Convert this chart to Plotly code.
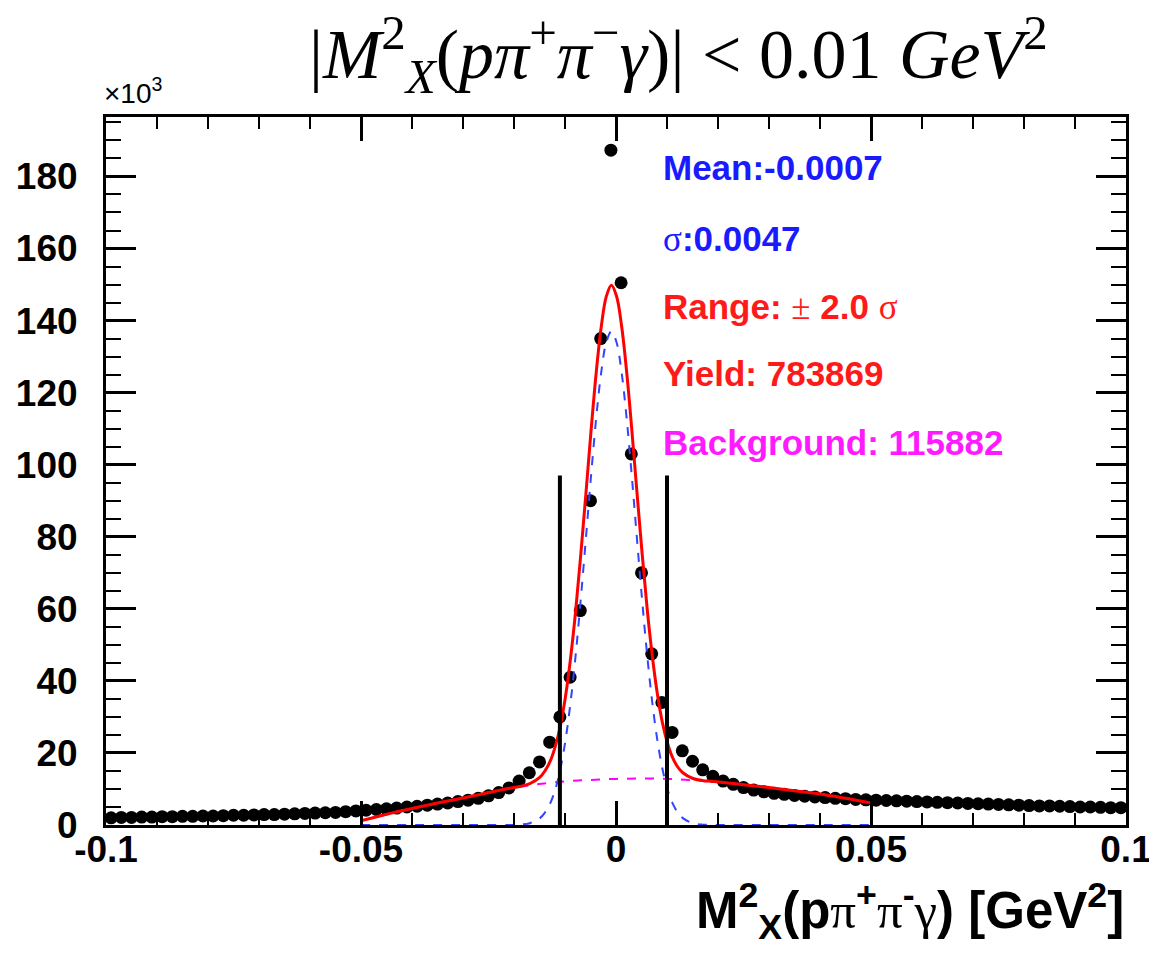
import plotly.graph_objects as go

# ---------------- data (y in units of 10^3 events) ----------------
bin_centers = [
    -0.099, -0.097, -0.095, -0.093, -0.091, -0.089, -0.087, -0.085, -0.083, -0.081,
    -0.079, -0.077, -0.075, -0.073, -0.071, -0.069, -0.067, -0.065, -0.063, -0.061,
    -0.059, -0.057, -0.055, -0.053, -0.051, -0.049, -0.047, -0.045, -0.043, -0.041,
    -0.039, -0.037, -0.035, -0.033, -0.031, -0.029, -0.027, -0.025, -0.023, -0.021,
    -0.019, -0.017, -0.015, -0.013, -0.011, -0.009, -0.007, -0.005, -0.003, -0.001,
    0.001, 0.003, 0.005, 0.007, 0.009, 0.011, 0.013, 0.015, 0.017, 0.019,
    0.021, 0.023, 0.025, 0.027, 0.029, 0.031, 0.033, 0.035, 0.037, 0.039,
    0.041, 0.043, 0.045, 0.047, 0.049, 0.051, 0.053, 0.055, 0.057, 0.059,
    0.061, 0.063, 0.065, 0.067, 0.069, 0.071, 0.073, 0.075, 0.077, 0.079,
    0.081, 0.083, 0.085, 0.087, 0.089, 0.091, 0.093, 0.095, 0.097, 0.099,
]
counts = [
    2.0, 2.1, 2.1, 2.2, 2.2, 2.3, 2.3, 2.4, 2.4, 2.5,
    2.5, 2.6, 2.7, 2.7, 2.8, 2.9, 2.9, 3.0, 3.1, 3.2,
    3.3, 3.4, 3.5, 3.7, 3.9, 4.1, 4.3, 4.5, 4.7, 5.0,
    5.2, 5.5, 5.8, 6.1, 6.5, 6.9, 7.4, 8.1, 9.0, 10.3,
    12.2, 14.5, 17.5, 23.0, 30.0, 41.0, 59.5, 90.0, 135.0, 187.3,
    150.5, 103.0, 70.0, 47.5, 34.0, 25.7, 20.6, 17.7, 15.3, 13.5,
    12.2, 11.3, 10.4, 9.7, 9.2, 8.8, 8.5, 8.2, 8.0, 7.8,
    7.6, 7.4, 7.3, 7.1, 7.0, 6.9, 6.8, 6.7, 6.6, 6.5,
    6.4, 6.3, 6.2, 6.1, 6.0, 5.9, 5.8, 5.7, 5.6, 5.5,
    5.4, 5.3, 5.3, 5.2, 5.1, 5.0, 5.0, 4.9, 4.8, 4.8,
]

# total fit (red)
fit_x = [
    -0.05, -0.045, -0.04, -0.035, -0.03, -0.025, -0.0209, -0.0189, -0.0169, -0.0149,
    -0.0139, -0.0129, -0.0119, -0.0109, -0.0099, -0.0089, -0.0079, -0.0069, -0.0059, -0.0049,
    -0.0039, -0.0029, -0.0019, -0.0009, 0.0001, 0.0011, 0.0021, 0.0031, 0.0041, 0.0051,
    0.0061, 0.0071, 0.0081, 0.0091, 0.0101, 0.0111, 0.0121, 0.0131, 0.0151, 0.0171,
    0.0191, 0.025, 0.03, 0.035, 0.04, 0.045, 0.05,
]
fit_y = [
    1.2, 3.0, 4.6, 6.1, 7.5, 9.0, 10.2, 10.7, 11.5, 13.3,
    15.1, 17.7, 21.8, 27.6, 35.7, 46.4, 59.6, 75.2, 92.0, 109.3,
    125.3, 138.2, 146.7, 149.8, 146.8, 138.5, 125.6, 109.7, 92.5, 75.7,
    60.2, 47.1, 36.5, 28.4, 22.7, 18.7, 16.1, 14.5, 12.9, 12.3,
    12.1, 11.2, 10.4, 9.5, 8.6, 7.4, 6.1,
]

# signal gaussian (blue dashed)
sig_x = [
    -0.05, -0.03, -0.0209, -0.0189, -0.0169, -0.0149, -0.0139, -0.0129, -0.0119, -0.0109,
    -0.0099, -0.0089, -0.0079, -0.0069, -0.0059, -0.0049, -0.0039, -0.0029, -0.0019, -0.0009,
    0.0001, 0.0011, 0.0021, 0.0031, 0.0041, 0.0051, 0.0061, 0.0071, 0.0081, 0.0091,
    0.0101, 0.0111, 0.0121, 0.0131, 0.0151, 0.0171, 0.0191, 0.03, 0.05,
]
sig_y = [
    0.0, 0.0, 0.0, 0.1, 0.5, 1.9, 3.5, 6.0, 9.9, 15.6,
    23.6, 34.2, 47.3, 62.8, 79.6, 96.8, 112.7, 125.6, 134.0, 137.0,
    134.0, 125.6, 112.7, 96.8, 79.6, 62.8, 47.3, 34.2, 23.6, 15.6,
    9.9, 6.0, 3.5, 1.9, 0.5, 0.1, 0.0, 0.0, 0.0,
]

# background (magenta dashed)
bg_x = [-0.05, -0.045, -0.04, -0.035, -0.03, -0.025, -0.02, -0.015, -0.01, -0.005,
        0.0, 0.005, 0.01, 0.015, 0.02, 0.025, 0.03, 0.035, 0.04, 0.045, 0.05]
bg_y = [1.2, 3.0, 4.6, 6.1, 7.5, 9.0, 10.3, 11.4, 12.1, 12.5,
        12.8, 12.9, 12.8, 12.4, 11.9, 11.2, 10.4, 9.5, 8.6, 7.4, 6.1]

# cut lines
cut_x = [-0.011, 0.010]
cut_height = 97.0

x_tick_vals = [-0.1, -0.05, 0.0, 0.05, 0.1]
x_tick_text = ["-0.1", "-0.05", "0", "0.05", "0.1"]
y_tick_vals = [0, 20, 40, 60, 80, 100, 120, 140, 160, 180]
y_tick_text = ["0", "20", "40", "60", "80", "100", "120", "140", "160", "180"]

SYM = "<span style='font-family:Liberation Serif;font-weight:normal'>{}</span>"
stats_lines = [
    ("Mean:-0.0007", "#1a1aff", 0.929),
    (SYM.format("σ") + ":0.0047", "#1a1aff", 0.828),
    ("Range: " + SYM.format("±") + " 2.0 " + SYM.format("σ"), "#ff1a1a", 0.732),
    ("Yield: 783869", "#ff1a1a", 0.638),
    ("Background: 115882", "#ff1aff", 0.540),
]

# ---------------- figure ----------------
fig = go.Figure()

fig.add_trace(go.Scatter(
    x=bin_centers, y=counts, mode="markers",
    marker=dict(color="black", size=13, line=dict(width=0)),
    showlegend=False, hoverinfo="x+y",
))
fig.add_trace(go.Scatter(
    x=bg_x, y=bg_y, mode="lines", line=dict(color="#ff00ff", width=2, dash="dash", shape="spline"),
    showlegend=False,
))
fig.add_trace(go.Scatter(
    x=sig_x, y=sig_y, mode="lines", line=dict(color="#3344ff", width=2, dash="dash", shape="spline"),
    showlegend=False,
))
fig.add_trace(go.Scatter(
    x=fit_x, y=fit_y, mode="lines", line=dict(color="#ff0000", width=3, shape="spline"),
    showlegend=False,
))
for cx in cut_x:
    fig.add_trace(go.Scatter(
        x=[cx, cx], y=[0, cut_height], mode="lines", line=dict(color="black", width=4),
        showlegend=False,
    ))

axis_font = dict(family="Liberation Sans, Arial, sans-serif", size=37, color="black")

fig.update_xaxes(
    range=[-0.1, 0.1], tickmode="array", tickvals=x_tick_vals,
    ticktext=["<b>" + t + "</b>" for t in x_tick_text],
    ticks="inside", ticklen=24, tickwidth=3, tickcolor="black",
    showline=True, linewidth=3, linecolor="black", mirror="ticks",
    showgrid=False, zeroline=False, tickfont=axis_font, ticklabelstandoff=-10,
    automargin=False, ticklabeloverflow="allow",
    minor=dict(dtick=0.01, tick0=-0.1, ticks="inside", ticklen=12, tickwidth=2,
               tickcolor="black", showgrid=False),
)
fig.update_yaxes(
    range=[0, 196.5], tickmode="array", tickvals=y_tick_vals,
    ticktext=["<b>" + t + "</b>" for t in y_tick_text],
    ticks="inside", ticklen=30, tickwidth=3, tickcolor="black",
    showline=True, linewidth=3, linecolor="black", mirror="ticks",
    showgrid=False, zeroline=False, tickfont=axis_font, ticklabelstandoff=18,
    automargin=False, ticklabeloverflow="allow",
    minor=dict(dtick=5, tick0=0, ticks="inside", ticklen=15, tickwidth=2,
               tickcolor="black", showgrid=False),
)

annotations = []
for text, color, ypos in stats_lines:
    annotations.append(dict(
        xref="paper", yref="paper", x=0.544, y=ypos, xanchor="left", yanchor="middle",
        text="<b>" + text + "</b>", showarrow=False,
        font=dict(family="Liberation Sans, Arial, sans-serif", size=35, color=color),
    ))

# x-axis title (right aligned, ROOT style)
annotations.append(dict(
    xref="paper", yref="paper", x=1.0, y=-0.122, xanchor="right", yanchor="middle",
    text="<b>M<sup>2</sup><sub>X</sub>(p" + SYM.format("π") + "<sup>+</sup>" + SYM.format("π")
         + "<sup>-</sup>" + SYM.format("γ") + ") [GeV<sup>2</sup>]</b>",
    showarrow=False,
    font=dict(family="Liberation Sans, Arial, sans-serif", size=51, color="black"),
))
# exponent label
annotations.append(dict(
    xref="paper", yref="paper", x=-0.004, y=1.008, xanchor="left", yanchor="bottom",
    text="×10<sup>3</sup>", showarrow=False,
    font=dict(family="Liberation Sans, Arial, sans-serif", size=28, color="black"),
))
# title
annotations.append(dict(
    xref="paper", yref="paper", x=0.561, y=1.088, xanchor="center", yanchor="middle",
    text="|<i>M</i><sup>2</sup><sub><i>X</i></sub>(<i>pπ</i><sup>+</sup><i>π</i><sup>−</sup><i>γ</i>)| &lt; 0.01 <i>GeV</i><sup>2</sup>",
    showarrow=False,
    font=dict(family="Liberation Serif, DejaVu Serif, serif", size=70, color="black"),
))

# page body adds an 8px margin: size the figure so the plot area lands where the reference has it
fig.update_layout(
    width=1149, height=938,
    margin=dict(l=98, r=31, t=109, b=121),
    paper_bgcolor="white", plot_bgcolor="white",
    annotations=annotations,
    showlegend=False,
)

fig.write_html("out.html")
